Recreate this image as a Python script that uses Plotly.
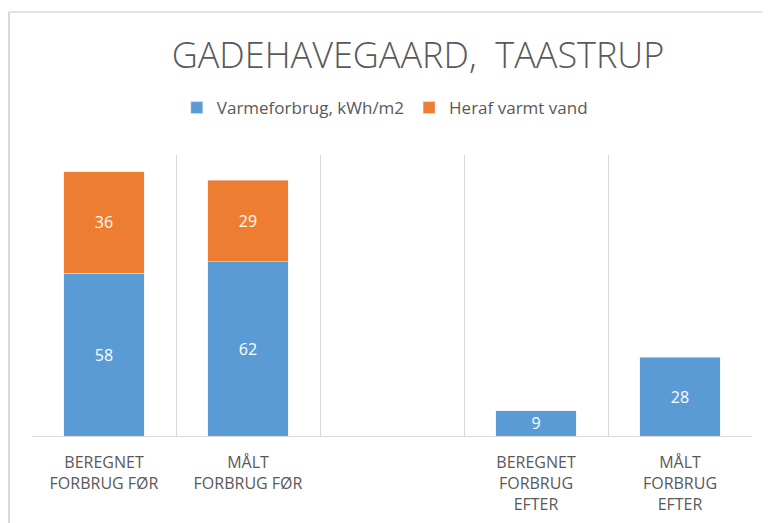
import plotly.graph_objects as go

categories = ["BEREGNET<br>FORBRUG FØR", "MÅLT<br>FORBRUG FØR", " ",
              "BEREGNET<br>FORBRUG<br>EFTER", "MÅLT<br>FORBRUG<br>EFTER"]
varme = [58, 62, None, 9, 28]
vand = [36, 29, None, None, None]
series_names = ["Varmeforbrug, kWh/m2", "Heraf varmt vand"]
title_text = "GADEHAVEGAARD,  TAASTRUP"

BLUE = "#5B9BD5"
ORANGE = "#ED7D31"
GRAY = "#595959"
FONT = "Open Sans"

fig = go.Figure()
fig.add_trace(go.Bar(
    x=categories, y=varme, name=series_names[0], marker_color=BLUE,
    text=[str(v) if v is not None else "" for v in varme],
    textposition="inside", insidetextanchor="middle", textangle=0,
    constraintext="none",
    textfont=dict(color="white", size=16, family=FONT),
))
fig.add_trace(go.Bar(
    x=categories, y=vand, name=series_names[1], marker_color=ORANGE,
    text=[str(v) if v is not None else "" for v in vand],
    textposition="inside", insidetextanchor="middle", textangle=0,
    constraintext="none",
    textfont=dict(color="white", size=16, family=FONT),
))

fig.update_layout(
    barmode="stack",
    bargap=0.44,
    width=770, height=523,
    margin=dict(l=24, r=26, t=147, b=95, autoexpand=False),
    paper_bgcolor="white", plot_bgcolor="white",
    font=dict(family=FONT, color=GRAY),
    title=dict(text=title_text, x=410 / 770, xanchor="center", y=1 - 47 / 523,
               yanchor="middle", yref="container",
               font=dict(size=36, color=GRAY, family=FONT, weight=300)),
    legend=dict(orientation="h", x=0.49, xanchor="center", y=1.167,
                yanchor="middle", font=dict(size=17, color=GRAY, family=FONT),
                itemwidth=30, traceorder="normal"),
    showlegend=True,
    xaxis=dict(type="category", tickson="boundaries", showgrid=True,
               gridcolor="#D9D9D9", gridwidth=1.3, showline=True,
               linecolor="#D9D9D9", linewidth=1.3, ticks="",
               automargin=False, ticklabelstandoff=12,
               tickfont=dict(size=16, color=GRAY, family=FONT),
               range=[-0.5, 4.5], fixedrange=True),
    yaxis=dict(range=[0, 100], visible=False, showgrid=False, zeroline=False),
    shapes=[
        dict(type="line", xref="paper", yref="paper", x0=-0.032, x1=1.1,
             y0=1.509, y1=1.509, line=dict(color="#D9D9D9", width=1.5)),
        dict(type="line", xref="paper", yref="paper", x0=-0.032, x1=-0.032,
             y0=1.509, y1=-0.4, line=dict(color="#D9D9D9", width=2)),
    ],
)

fig.write_html("out.html")
